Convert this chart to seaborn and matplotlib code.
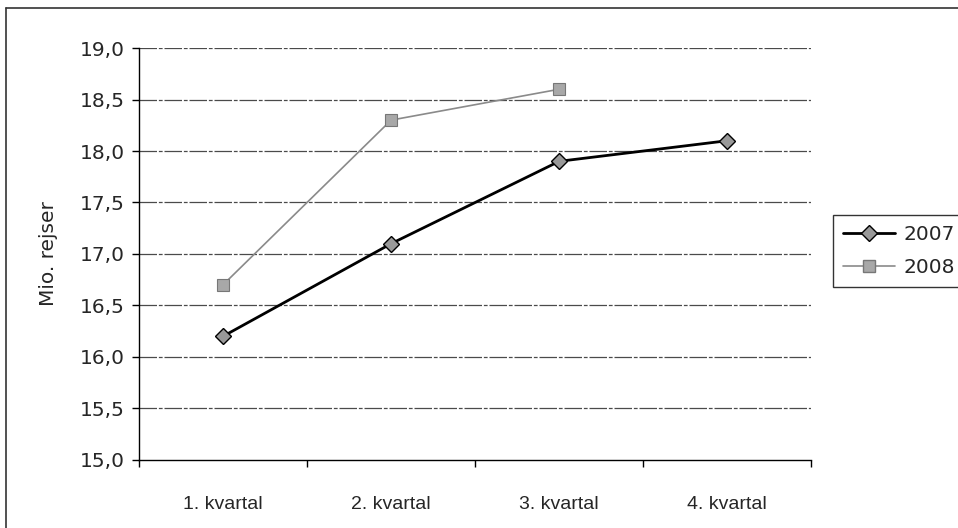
import matplotlib
matplotlib.use("Agg")
import matplotlib.pyplot as plt
import matplotlib.ticker as mticker
from matplotlib.lines import Line2D
import seaborn as sns
import pandas as pd

quarters = ["1. kvartal", "2. kvartal", "3. kvartal", "4. kvartal"]
values_2007 = [16.2, 17.1, 17.9, 18.1]
values_2008 = [16.7, 18.3, 18.6]
y_ticks = [15.0, 15.5, 16.0, 16.5, 17.0, 17.5, 18.0, 18.5, 19.0]

sns.set_theme(style="white")
plt.rcParams["font.family"] = ["DejaVu Sans"]

df07 = pd.DataFrame({"pos": range(len(values_2007)), "val": values_2007})
df08 = pd.DataFrame({"pos": range(len(values_2008)), "val": values_2008})

fig = plt.figure(figsize=(9.58, 5.28), dpi=100)
ax = fig.add_axes([0.145, 0.129, 0.702, 0.780])

for y in y_ticks[1:]:
    ax.axhline(y, color="#4a4a4a", lw=0.9, ls=(0, (14, 1.5, 3, 1.5)), zorder=1)

sns.lineplot(data=df08, x="pos", y="val", ax=ax, color="#8a8a8a", lw=1.2,
             marker="s", markersize=8.5, markerfacecolor="#a8a8a8",
             markeredgecolor="#777777", markeredgewidth=0.8, zorder=3)
sns.lineplot(data=df07, x="pos", y="val", ax=ax, color="black", lw=2.0,
             marker="D", markersize=8.5, markerfacecolor="#999999",
             markeredgecolor="black", markeredgewidth=1.0, zorder=4)

ax.set_xlim(-0.5, len(quarters) - 0.5)
ax.set_ylim(15.0, 19.0)
ax.set_xticks([i - 0.5 for i in range(len(quarters) + 1)])
ax.set_xticklabels([])
ax.set_xticks(range(len(quarters)), minor=True)
ax.set_xticklabels(quarters, minor=True, fontsize=14, family="Liberation Sans")
ax.tick_params(axis="x", which="minor", length=0, pad=26)
ax.tick_params(axis="x", which="major", length=5, width=1, color="black", direction="out", bottom=True)
ax.set_yticks(y_ticks)
ax.yaxis.set_major_formatter(mticker.FuncFormatter(lambda v, p: f"{v:.1f}".replace(".", ",")))
ax.tick_params(axis="y", length=5, width=1, color="black", direction="out", left=True, labelsize=14.5, pad=5)
ax.set_xlabel("")
ax.set_ylabel("Mio. rejser", fontsize=14.5, labelpad=16)

for s in ["top", "right"]:
    ax.spines[s].set_visible(False)
for s in ["left", "bottom"]:
    ax.spines[s].set_color("black")
    ax.spines[s].set_linewidth(1.0)

handles = [
    Line2D([], [], color="black", lw=2.0, marker="D", markersize=8.5,
           markerfacecolor="#999999", markeredgecolor="black"),
    Line2D([], [], color="#8a8a8a", lw=1.2, marker="s", markersize=8.5,
           markerfacecolor="#a8a8a8", markeredgecolor="#777777"),
]
leg = fig.legend(handles, ["2007", "2008"], loc="upper left",
                 bbox_to_anchor=(833 / 958, 1 - 215 / 528), frameon=True,
                 fancybox=False, edgecolor="black", fontsize=14.5,
                 handlelength=2.6, handletextpad=0.4, borderpad=0.5,
                 labelspacing=0.7, borderaxespad=0)
leg.get_frame().set_linewidth(1.0)

fig.add_artist(Line2D([6 / 958, 1.0], [1 - 8 / 528, 1 - 8 / 528], color="#333333", lw=1.2, transform=fig.transFigure))
fig.add_artist(Line2D([6 / 958, 6 / 958], [0.0, 1 - 8 / 528], color="#333333", lw=1.2, transform=fig.transFigure))

fig.savefig("out.png", dpi=100)
